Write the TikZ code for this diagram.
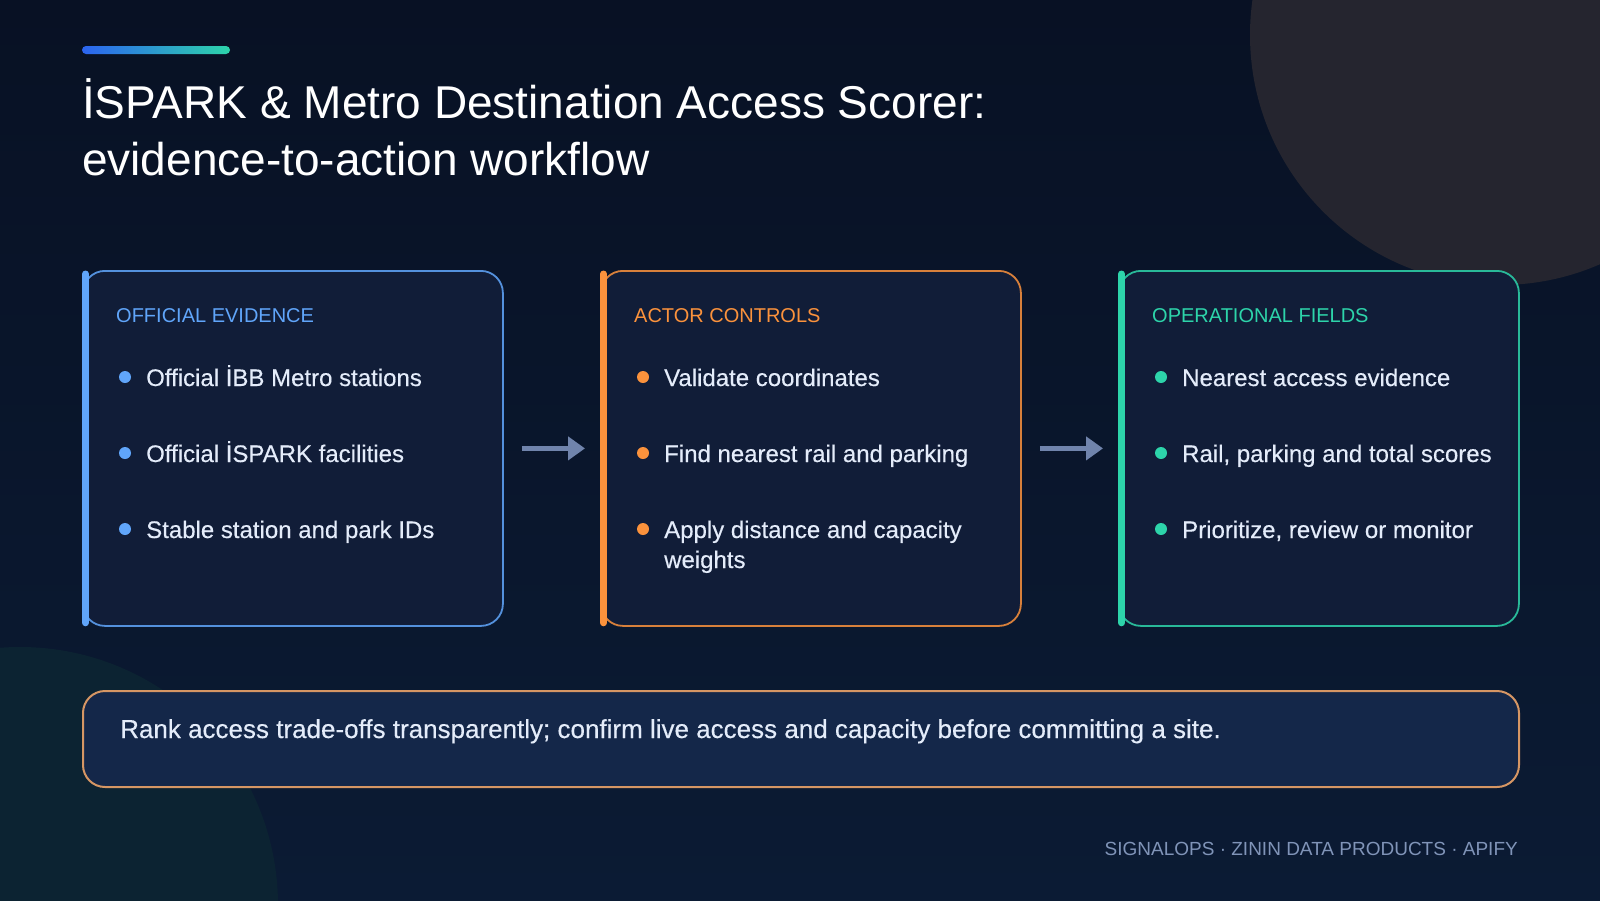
\documentclass[tikz,border=0pt]{standalone}
\usepackage{fontspec}
\setmainfont{Liberation Sans}
\newfontfamily\itemfont[FakeBold=0.35]{Liberation Sans}
\usetikzlibrary{positioning,calc,arrows.meta}

\definecolor{bgtop}{RGB}{8,17,36}
\definecolor{bgbot}{RGB}{11,27,52}
\definecolor{cardfill}{RGB}{17,29,56}
\definecolor{notefill}{RGB}{20,39,73}
\definecolor{accblue}{RGB}{44,100,240}
\definecolor{cblue}{RGB}{96,165,250}
\definecolor{corange}{RGB}{251,146,60}
\definecolor{cteal}{RGB}{45,212,170}
\definecolor{inktext}{RGB}{228,236,250}
\definecolor{arrowgrey}{RGB}{112,132,172}
\definecolor{footgrey}{RGB}{128,148,184}
\definecolor{orbgrey}{RGB}{37,37,47}
\definecolor{orbteal}{RGB}{12,35,50}
\definecolor{notestroke}{RGB}{214,150,100}

\tikzset{
  card/.style={draw=#1!85!cardfill, line width=1.8pt, fill=cardfill, rounded corners=22pt,
    minimum height=355pt, anchor=north west, inner sep=0pt},
  cardbar/.style={draw=#1, line width=7pt, line cap=round},
  cardhead/.style={text=#1, font=\fontsize{20}{24}\selectfont, anchor=base west, inner sep=0pt},
  item/.style={text=inktext, font=\itemfont\fontsize{24}{30}\selectfont, anchor=base west,
    inner sep=0pt},
  dot/.style={circle, fill=#1, minimum size=12pt, inner sep=0pt},
  flow/.style={draw=arrowgrey, line width=5pt, -{Triangle[length=17pt, width=23pt]}},
  note/.style={draw=notestroke, line width=2pt, fill=notefill, rounded corners=22pt,
    minimum width=1436pt, minimum height=96pt, anchor=north west, inner sep=0pt},
}

\begin{document}
\begin{tikzpicture}[x=1pt, y=-1pt]
    \useasboundingbox (0,0) rectangle (1600,900);

    % Background
    \shade[top color=bgtop, bottom color=bgbot] (0,0) rectangle (1600,900);
    \fill[orbgrey] (1500,35) circle (250);
    \fill[orbteal] (20,905) circle (258);

    % Title
    \shade[left color=accblue, right color=cteal, rounded corners=4pt] (82,46) rectangle (230,54);
    \node[anchor=base west, inner sep=0pt, text=white, font=\fontsize{46}{57}\selectfont]
        (title1) at (82,118) {İSPARK \& Metro Destination Access Scorer:};
    \node[anchor=base west, inner sep=0pt, text=white, font=\fontsize{46}{57}\selectfont]
        (title2) at ($(title1.base west)+(0,57)$) {evidence-to-action workflow};

    % Card 1
    \node[card=cblue, minimum width=420pt] (evid) at (82,270) {};
    \draw[cardbar=cblue] ($(evid.north west)+(3.5,4)$) -- ($(evid.south west)+(3.5,-4)$);
    \node[cardhead=cblue] (evid-head) at ($(evid.north west)+(34,52)$) {OFFICIAL EVIDENCE};
    \foreach \txt [count=\k] in {Official İBB Metro stations, Official İSPARK facilities,
        Stable station and park IDs} {
        \node[dot=cblue] (evid-d\k) at ($(evid.north west)+(43,{107+76*(\k-1)})$) {};
        \node[item] (evid-t\k) at ($(evid.north west)+(64,{116+76*(\k-1)})$) {\txt};
    }

    % Card 2
    \node[card=corange, minimum width=420pt] (ctrl) at (600,270) {};
    \draw[cardbar=corange] ($(ctrl.north west)+(3.5,4)$) -- ($(ctrl.south west)+(3.5,-4)$);
    \node[cardhead=corange] (ctrl-head) at ($(ctrl.north west)+(34,52)$) {ACTOR CONTROLS};
    \foreach \txt [count=\k] in {Validate coordinates, Find nearest rail and parking,
        {Apply distance and capacity\\weights}} {
        \node[dot=corange] (ctrl-d\k) at ($(ctrl.north west)+(43,{107+76*(\k-1)})$) {};
        \node[item] (ctrl-t\k) at ($(ctrl.north west)+(64,{116+76*(\k-1)})$)
            {\parbox[t]{330pt}{\raggedright\txt}};
    }

    % Card 3
    \node[card=cteal, minimum width=400pt] (fields) at (1118,270) {};
    \draw[cardbar=cteal] ($(fields.north west)+(3.5,4)$) -- ($(fields.south west)+(3.5,-4)$);
    \node[cardhead=cteal] (fields-head) at ($(fields.north west)+(34,52)$) {OPERATIONAL FIELDS};
    \foreach \txt [count=\k] in {Nearest access evidence, {Rail, parking and total scores},
        {Prioritize, review or monitor}} {
        \node[dot=cteal] (fields-d\k) at ($(fields.north west)+(43,{107+76*(\k-1)})$) {};
        \node[item] (fields-t\k) at ($(fields.north west)+(64,{116+76*(\k-1)})$) {\txt};
    }

    % Flow arrows
    \draw[flow] ([xshift=18pt]evid.east) -- ([xshift=-15pt]ctrl.west);
    \draw[flow] ([xshift=18pt]ctrl.east) -- ([xshift=-15pt]fields.west);

    % Summary
    \node[note] (summary) at (82,690) {};
    \node[anchor=base west, inner sep=0pt, text=inktext, font=\itemfont\fontsize{26}{30}\selectfont]
        (summary-txt) at ($(summary.north west)+(38,48)$)
        {Rank access trade-offs transparently; confirm live access and capacity before committing a site.};

    % Footer
    \node[anchor=base east, inner sep=0pt, text=footgrey, font=\fontsize{19}{22}\selectfont]
        (credit) at (1518,855) {SIGNALOPS · ZININ DATA PRODUCTS · APIFY};
\end{tikzpicture}
\end{document}
